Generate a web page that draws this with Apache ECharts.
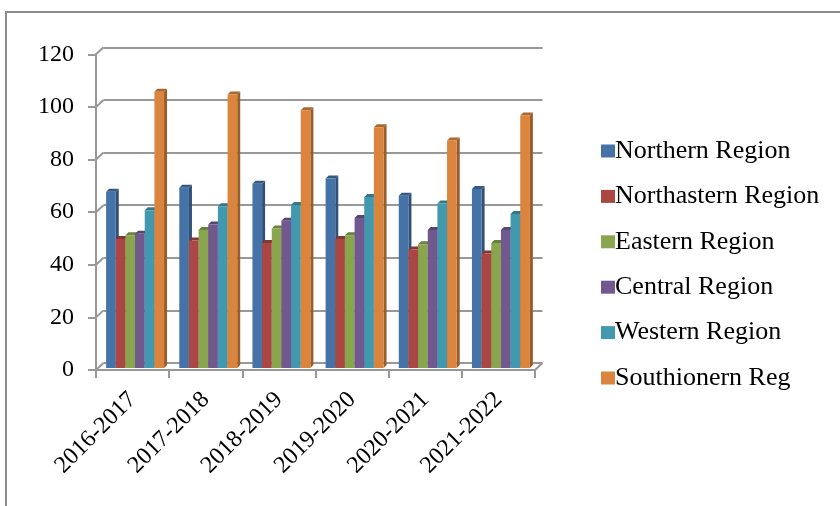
<!DOCTYPE html>
<html>
<head>
<meta charset="utf-8">
<script src="https://cdn.jsdelivr.net/npm/echarts@6/dist/echarts.min.js"></script>
<style>
  html, body { margin: 0; padding: 0; background: #fff; }
  #chart { width: 840px; height: 506px; }
</style>
</head>
<body>
<div id="chart"></div>
<script>
// Academic years on the category axis
const years = ['2016-2017', '2017-2018', '2018-2019', '2019-2020', '2020-2021', '2021-2022'];

// Region names as shown in the legend
const regions = ['Northern Region', 'Northastern Region', 'Eastern Region',
                 'Central Region', 'Western Region', 'Southionern Reg'];

// Values per region, one per academic year
const northern     = [67, 68.5, 70, 72, 65.5, 68];
const northeastern = [49, 48.5, 47.5, 49, 45, 43.5];
const eastern      = [50.5, 52.5, 53, 50.5, 47, 47.5];
const central      = [51, 54.5, 56, 57, 52.5, 52.5];
const western      = [60, 61.5, 62, 65, 62.5, 58.5];
const southern     = [105, 104, 98, 91.5, 86.5, 96];

// Value axis ticks
const yTicks = [0, 20, 40, 60, 80, 100, 120];

const regionValues = [northern, northeastern, eastern, central, western, southern];
const colors = ['#4572A7', '#AA4643', '#89A54E', '#71588F', '#4198AF', '#DB843D'];

const FONT = '"Liberation Serif", "Times New Roman", serif';
const AXIS_GRAY = '#989898';
const DEPTH_X = 7.5, DEPTH_Y = 7;   // front-to-back offset of the walls
const BAR_D = 3;                    // visible depth of each column
const GROUP_FRAC = 0.792;           // share of a category taken by a cluster

function shade(hex, f) {
  const n = parseInt(hex.slice(1), 16);
  const r = Math.round(((n >> 16) & 255) * f);
  const g = Math.round(((n >> 8) & 255) * f);
  const b = Math.round((n & 255) * f);
  return 'rgb(' + r + ',' + g + ',' + b + ')';
}

// 3D-looking column: front face, right side face and top cap
function columnRenderer(k) {
  return function (params, api) {
    const ci = api.value(0);
    const v = api.value(1);
    const top = api.coord([ci, v]);
    const base = api.coord([ci, 0]);
    const band = api.size([1, 0])[0];
    const gw = band * GROUP_FRAC;
    const bw = gw / regions.length;
    const x0 = top[0] - gw / 2 + k * bw;
    const x1 = x0 + bw;
    const yT = top[1], yB = base[1];
    const c = colors[k];
    return {
      type: 'group',
      children: [
        { type: 'polygon',
          shape: { points: [[x1, yT], [x1 + BAR_D, yT - BAR_D], [x1 + BAR_D, yB - BAR_D], [x1, yB]] },
          style: { fill: shade(c, 0.7) } },
        { type: 'polygon',
          shape: { points: [[x0, yT], [x0 + BAR_D, yT - BAR_D], [x1 + BAR_D, yT - BAR_D], [x1, yT]] },
          style: { fill: shade(c, 0.78) } },
        { type: 'rect',
          shape: { x: x0, y: yT, width: bw, height: yB - yT },
          style: { fill: c } }
      ]
    };
  };
}

const chart = echarts.init(document.getElementById('chart'), null, { renderer: 'canvas' });

const series = [];

// Diagonal connectors from the front value axis to the back wall gridlines
series.push({
  type: 'custom',
  xAxisIndex: 0, yAxisIndex: 0,
  silent: true,
  data: yTicks.map(t => [0, t]),
  renderItem: function (params, api) {
    const cs = params.coordSys;
    const y = api.coord([0, api.value(1)])[1];
    return { type: 'line',
      shape: { x1: cs.x, y1: y, x2: cs.x + DEPTH_X, y2: y - DEPTH_Y },
      style: { stroke: AXIS_GRAY, lineWidth: 2 } };
  },
  z: 1
});

// Right floor corner connector
series.push({
  type: 'custom',
  xAxisIndex: 0, yAxisIndex: 0,
  silent: true,
  data: [[0, 0]],
  renderItem: function (params, api) {
    const cs = params.coordSys;
    const y = api.coord([0, 0])[1];
    const x = cs.x + cs.width;
    return { type: 'line',
      shape: { x1: x, y1: y, x2: x + DEPTH_X, y2: y - DEPTH_Y },
      style: { stroke: AXIS_GRAY, lineWidth: 2 } };
  },
  z: 1
});

regions.forEach((name, k) => {
  series.push({
    name: name,
    type: 'custom',
    xAxisIndex: 2, yAxisIndex: 2,
    data: regionValues[k].map((v, i) => [i, v]),
    encode: { x: 0, y: 1 },
    itemStyle: { color: colors[k] },
    renderItem: columnRenderer(k),
    z: 5
  });
});

const option = {
  animation: false,
  backgroundColor: '#ffffff',
  graphic: [{
    type: 'rect',
    shape: { x: 6, y: 12, width: 900, height: 600 },
    style: { fill: 'none', stroke: '#8c8c8c', lineWidth: 2 },
    silent: true, z: -10
  }],
  legend: {
    orient: 'vertical',
    left: 596,
    top: 133,
    icon: 'rect',
    itemWidth: 14,
    itemHeight: 13,
    itemGap: 19.4,
    data: regions,
    textStyle: { fontFamily: FONT, fontSize: 26, color: '#000', lineHeight: 24, padding: [0, 0, 0, -5] }
  },
  grid: [
    // front plane: value labels and floor edge
    { left: 96, right: 305, top: 54.3, bottom: 136 },
    // back wall: gridlines
    { left: 96 + DEPTH_X, right: 305 - DEPTH_X, top: 54.3 - DEPTH_Y, bottom: 136 + DEPTH_Y },
    // columns, set slightly behind the front plane
    { left: 98.5, right: 302.5, top: 52.3, bottom: 138 }
  ],
  xAxis: [
    { type: 'category', gridIndex: 0, data: years,
      axisLine: { show: true, lineStyle: { color: AXIS_GRAY, width: 2 } },
      axisTick: { show: true, length: 8, lineStyle: { color: AXIS_GRAY, width: 2 } },
      axisLabel: { rotate: 45, margin: 26, fontFamily: FONT, fontSize: 24, color: '#000' } },
    { type: 'category', gridIndex: 1, data: years, show: false },
    { type: 'category', gridIndex: 2, data: years, show: false }
  ],
  yAxis: [
    { type: 'value', gridIndex: 0, min: 0, max: 120, interval: 20,
      axisLine: { show: true, lineStyle: { color: AXIS_GRAY, width: 2 } },
      axisTick: { show: true, length: 8, lineStyle: { color: AXIS_GRAY, width: 2 } },
      splitLine: { show: false },
      axisLabel: { margin: 22, fontFamily: FONT, fontSize: 24, color: '#000' } },
    { type: 'value', gridIndex: 1, min: 0, max: 120, interval: 20,
      axisLine: { show: false }, axisTick: { show: false }, axisLabel: { show: false },
      splitLine: { show: true, lineStyle: { color: AXIS_GRAY, width: 2 } } },
    { type: 'value', gridIndex: 2, min: 0, max: 120, interval: 20, show: false,
      splitLine: { show: false } }
  ],
  series: series
};

chart.setOption(option);
</script>
</body>
</html>
